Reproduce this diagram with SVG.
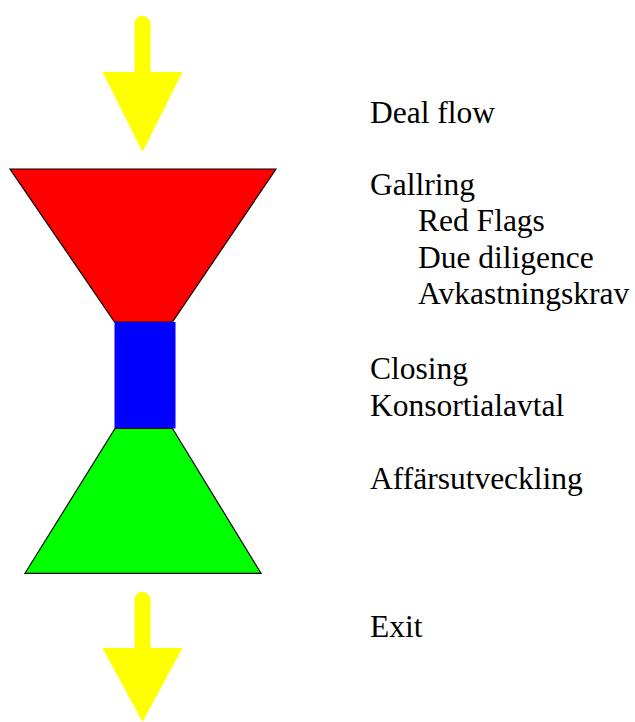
<svg xmlns="http://www.w3.org/2000/svg" width="635" height="722" viewBox="0 0 635 722">
  <style>
    .arrow-shaft { stroke: #ffff00; stroke-width: 16; stroke-linecap: round; fill: none; }
    .arrow-head { fill: #ffff00; }
    .outline { stroke: #000000; stroke-width: 1.2; }
    .label { font-family: "Liberation Serif", "Times New Roman", serif; font-size: 31.5px; fill: #000000; }
  </style>
  <rect width="635" height="722" fill="#ffffff"/>

  <!-- funnel stages -->
  <g id="stage-screening">
    <polygon class="outline" points="10,169 276,169 172.5,322 114.5,322" fill="#ff0000"/>
  </g>
  <g id="stage-closing">
    <rect x="114.5" y="322" width="61" height="106.5" fill="#0000ff"/>
  </g>
  <g id="stage-development">
    <polygon class="outline" points="115,428.5 172.5,428.5 261,573.3 25,573.3" fill="#00ff00"/>
  </g>

  <!-- flow in and out -->
  <g id="connectors">
    <g id="arrow-in">
      <line class="arrow-shaft" x1="142.5" y1="24" x2="142.5" y2="74"/>
      <polygon class="arrow-head" points="102.5,72 182.5,72 142.5,152"/>
    </g>
    <g id="arrow-out">
      <line class="arrow-shaft" x1="142.5" y1="600" x2="142.5" y2="650"/>
      <polygon class="arrow-head" points="102.5,648 182.5,648 142.5,722"/>
    </g>
  </g>

  <!-- stage descriptions -->
  <g id="labels">
    <text class="label" x="370" y="123">Deal flow</text>
    <text class="label" x="370" y="195">Gallring</text>
    <text class="label" x="418" y="231">Red Flags</text>
    <text class="label" x="418" y="267.5">Due diligence</text>
    <text class="label" x="418" y="304">Avkastningskrav</text>
    <text class="label" x="370" y="378.5">Closing</text>
    <text class="label" x="370" y="415.5">Konsortialavtal</text>
    <text class="label" x="370" y="488.5">Affärsutveckling</text>
    <text class="label" x="370" y="637">Exit</text>
  </g>
</svg>
